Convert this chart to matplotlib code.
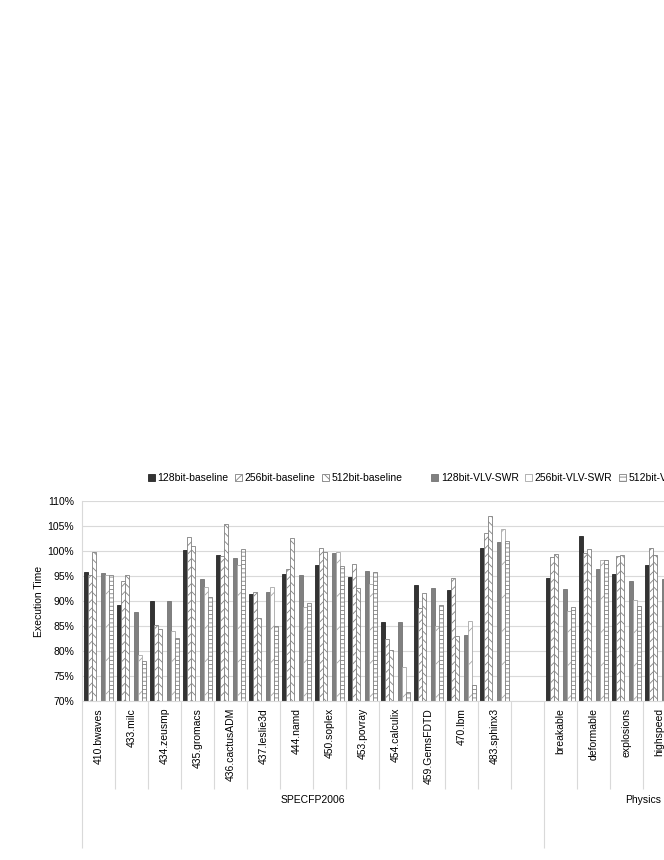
import numpy as np
import matplotlib.pyplot as plt
from matplotlib.patches import Patch
from matplotlib.ticker import FuncFormatter

plt.rcParams['font.family'] = ['Liberation Sans', 'DejaVu Sans']
plt.rcParams['font.size'] = 7.5
plt.rcParams['hatch.linewidth'] = 0.6

nan = np.nan
spec_names = ['410.bwaves', '433.milc', '434.zeusmp', '435.gromacs', '436.cactusADM',
              '437.leslie3d', '444.namd', '450.soplex', '453.povray', '454.calculix',
              '459.GemsFDTD', '470.lbm', '483.sphinx3', '']
phys_names = ['breakable', 'deformable', 'explosions', 'highspeed', '', '']
group_names = ['SPECFP2006', 'Physics']

series_names = ['128bit-baseline', '256bit-baseline', '512bit-baseline', '  ',
                '128bit-VLV-SWR', '256bit-VLV-SWR', '512bit-VLV-SWR']

# execution time (%) -- SPEC slots then Physics slots
base128 = [95.8, 89.3, 90.0, 100.2, 99.3, 91.5, 95.5, 97.2, 94.8, 85.9, 93.3, 92.3, 100.7, nan,
           94.7, 103.0, 95.4, 97.2, nan, nan]
base256 = [95.3, 94.1, 85.3, 102.9, 99.1, 91.9, 96.5, 100.6, 97.4, 82.4, 88.7, 94.7, 103.7, nan,
           98.9, 99.6, 99.0, 100.6, nan, nan]
base512 = [99.9, 95.2, 84.5, 101.1, 105.4, 86.7, 102.7, 99.9, 92.7, 80.2, 91.7, 83.1, 107.0, nan,
           99.5, 100.4, 99.3, 99.2, nan, nan]
vlv128 = [95.7, 87.9, 90.1, 94.5, 98.7, 91.9, 95.3, 99.7, 96.0, 85.9, 92.6, 83.3, 101.9, nan,
          92.5, 96.5, 94.1, 94.5, nan, nan]
vlv256 = [95.2, 79.3, 84.0, 92.8, 97.2, 92.9, 88.9, 99.9, 93.4, 76.9, 85.0, 86.1, 104.5, nan,
          88.1, 98.2, 90.2, nan, nan, nan]
vlv512 = [95.2, 78.1, 82.6, 90.8, 100.4, 85.0, 89.6, 97.0, 95.8, 71.9, 89.3, 73.2, 102.0, nan,
          88.8, 98.3, 89.0, nan, nan, nan]

series = [base128, base256, base512, None, vlv128, vlv256, vlv512]
styles = [dict(facecolor='#333333', edgecolor='#262626', hatch=None),
          dict(facecolor='white', edgecolor='#808080', hatch='////'),
          dict(facecolor='white', edgecolor='#808080', hatch='\\\\\\\\'),
          None,
          dict(facecolor='#808080', edgecolor='#737373', hatch=None),
          dict(facecolor='white', edgecolor='#a6a6a6', hatch='/'),
          dict(facecolor='white', edgecolor='#808080', hatch='----')]

cats = spec_names + phys_names
x = np.arange(len(cats))
w = 0.128

fig = plt.figure(figsize=(6.64, 8.6), dpi=100)
ax = fig.add_axes([82 / 664, 159 / 860, 660 / 664, 200 / 860])

for k, (vals, st) in enumerate(zip(series, styles)):
    if st is None:
        continue
    ax.bar(x + (k - 3) * w, vals, w, linewidth=0.6, zorder=2, **st)

ax.set_xlim(-0.5, len(cats) - 0.5)
ax.set_ylim(70, 110)
ax.set_yticks(np.arange(70, 111, 5))
ax.yaxis.set_major_formatter(FuncFormatter(lambda v, p: f'{v:.0f}%'))
ax.grid(axis='y', color='#d9d9d9', linewidth=0.8)
ax.set_axisbelow(True)
ax.tick_params(axis='y', length=0, pad=5.8)
ax.set_xticks(x)
ax.set_xticklabels(cats, rotation=90)
ax.tick_params(axis='x', length=0, pad=5)
for s in ['top', 'right']:
    ax.spines[s].set_visible(False)
for s in ['left', 'bottom']:
    ax.spines[s].set_color('#d9d9d9')
    ax.spines[s].set_linewidth(0.8)
ax.set_ylabel('Execution Time')
ax.yaxis.set_label_coords(-0.058, 0.5)

# multi-level category axis
trans = ax.get_xaxis_transform()
n_spec = len(spec_names)
n_all = len(cats)
inner = [i + 0.5 for i in range(n_spec - 1)] + [i + 0.5 for i in range(n_spec, n_all - 1)]
ax.vlines(inner, -0.44, 0, transform=trans, colors='#d9d9d9', lw=0.8, clip_on=False)
ax.vlines([-0.5, n_spec - 0.5, n_all - 0.5], -0.735, 0, transform=trans,
          colors='#d9d9d9', lw=0.8, clip_on=False)
ax.text((n_spec - 1) / 2, -0.495, group_names[0], transform=trans, ha='center', va='center')
ax.text((n_spec + n_all - 1) / 2, -0.495, group_names[1], transform=trans, ha='center', va='center')

handles = []
for st in styles:
    if st is None:
        handles.append(Patch(facecolor='none', edgecolor='none'))
    else:
        handles.append(Patch(linewidth=0.6, **st))
fig.legend(handles, series_names, loc='center left', bbox_to_anchor=(148 / 664, (860 - 478) / 860),
           ncol=7, frameon=False, borderpad=0, borderaxespad=0, handlelength=0.65,
           handleheight=0.65, handletextpad=0.25, columnspacing=0.65)

fig.savefig('out.png', dpi=100)
